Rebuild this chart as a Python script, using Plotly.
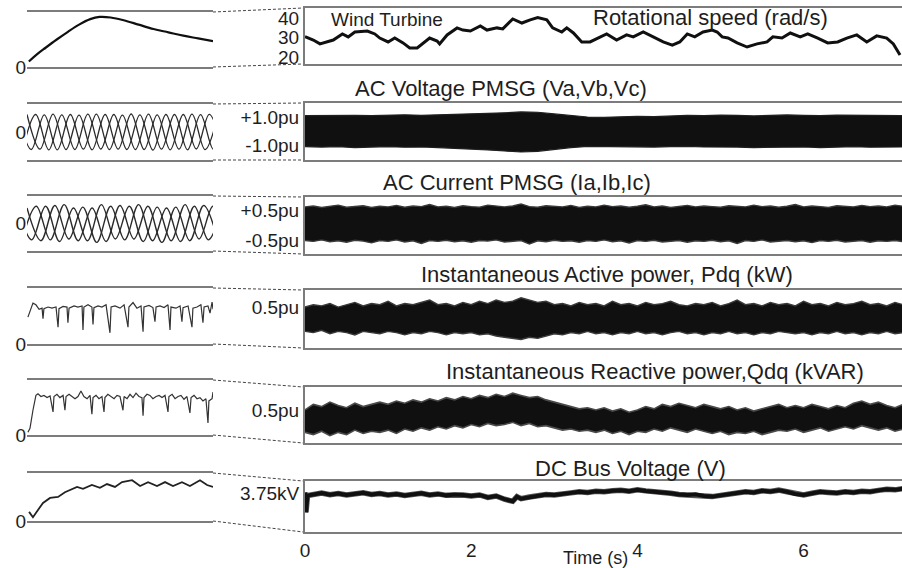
import plotly.graph_objects as go

W, H = 902, 568
FONT = "Liberation Sans, Arial, Helvetica, sans-serif"
TXT = "#1e1e1e"
INK = "#101010"
FRAME = "#7c7c7c"

# ---------------- geometry (pixels) ----------------
LEFT_X = (27, 213)
RIGHT_X = (305, 902)
LEFT_Y = [(12, 67), (104, 160), (196, 251), (288, 344), (380, 435), (473, 521)]
RIGHT_Y = [(8, 64), (103, 160), (197, 254), (290, 348), (387, 443), (481, 532)]
T_MAX = 7.184

# ---------------- data: main time traces (s) ----------------
ROT_T = [0.00,0.10,0.18,0.26,0.34,0.45,0.52,0.60,0.75,0.84,0.90,1.00,1.08,1.18,1.26,1.35,1.42,1.50,1.59,1.62,
         1.71,1.83,1.90,1.99,2.11,2.19,2.31,2.38,2.50,2.61,2.71,2.80,2.91,2.98,3.09,3.15,3.23,3.33,3.43,3.53,
         3.63,3.75,3.87,3.95,4.07,4.19,4.31,4.42,4.51,4.60,4.69,4.79,4.90,4.96,5.02,5.09,5.20,5.32,5.44,5.56,
         5.63,5.74,5.84,5.96,6.05,6.17,6.29,6.41,6.52,6.64,6.76,6.88,7.00,7.08,7.16]
ROT_V = [30.4,28.7,26.7,27.7,28.7,31.8,30.3,32.8,33.3,31.8,29.7,27.7,29.7,27.2,24.6,24.6,27.2,29.7,28.2,26.7,
         31.3,34.9,33.8,33.3,35.9,33.8,34.9,34.4,39.5,37.4,39.0,40.2,39.0,34.9,32.8,34.9,32.3,27.7,27.7,29.7,
         31.8,28.7,31.3,30.3,32.8,30.3,27.7,26.1,27.7,31.8,30.3,32.8,33.8,32.8,30.3,29.7,27.2,25.1,26.7,27.7,
         30.3,29.7,32.3,30.3,31.8,29.7,27.2,27.7,29.7,31.3,27.7,30.8,29.7,26.7,21.0]

VOLT_T = [0.0,0.2,0.4,0.6,0.8,1.0,1.2,1.4,1.6,1.8,2.0,2.2,2.4,2.6,2.8,3.0,3.2,3.4,3.6,3.8,
          4.0,4.2,4.4,4.6,4.8,5.0,5.2,5.4,5.6,5.8,6.0,6.2,6.4,6.6,6.8,7.0,7.2]
VOLT_UP = [1.10,1.12,1.15,1.12,1.10,1.14,1.16,1.12,1.15,1.20,1.22,1.28,1.30,1.36,1.34,1.22,1.10,1.00,0.98,1.02,
           1.05,1.02,1.08,1.12,1.10,1.14,1.12,1.08,1.12,1.15,1.12,1.10,1.14,1.12,1.10,1.12,1.10]
VOLT_LO = [-1.12,-1.15,-1.12,-1.18,-1.15,-1.12,-1.16,-1.14,-1.18,-1.22,-1.28,-1.35,-1.42,-1.50,-1.45,-1.30,-1.18,-1.10,-1.12,-1.15,
           -1.12,-1.15,-1.12,-1.10,-1.14,-1.12,-1.15,-1.18,-1.15,-1.12,-1.14,-1.18,-1.15,-1.12,-1.16,-1.15,-1.14]

BAND_T = [0.0,0.1,0.2,0.3,0.4,0.5,0.6,0.7,0.8,0.9,1.0,1.1,1.2,1.3,1.4,1.5,1.6,1.7,1.8,1.9,
          2.0,2.1,2.2,2.3,2.4,2.5,2.6,2.7,2.8,2.9,3.0,3.1,3.2,3.3,3.4,3.5,3.6,3.7,3.8,3.9,
          4.0,4.1,4.2,4.3,4.4,4.5,4.6,4.7,4.8,4.9,5.0,5.1,5.2,5.3,5.4,5.5,5.6,5.7,5.8,5.9,
          6.0,6.1,6.2,6.3,6.4,6.5,6.6,6.7,6.8,6.9,7.0,7.1,7.2]
CUR_UP = [0.60,0.63,0.58,0.62,0.66,0.59,0.61,0.64,0.58,0.62,
          0.60,0.65,0.59,0.63,0.61,0.68,0.60,0.62,0.58,0.64,
          0.61,0.59,0.66,0.62,0.60,0.63,0.70,0.61,0.59,0.64,
          0.62,0.60,0.65,0.58,0.62,0.60,0.66,0.61,0.63,0.59,
          0.62,0.67,0.60,0.63,0.58,0.62,0.65,0.60,0.63,0.61,
          0.59,0.64,0.62,0.60,0.66,0.61,0.63,0.59,0.62,0.68,
          0.60,0.63,0.61,0.58,0.64,0.62,0.60,0.65,0.61,0.63,
          0.60,0.66,0.62]
CUR_LO = [-0.52,-0.55,-0.50,-0.56,-0.53,-0.58,-0.51,-0.54,-0.60,-0.52,
          -0.55,-0.50,-0.57,-0.53,-0.62,-0.52,-0.55,-0.51,-0.56,-0.53,
          -0.58,-0.52,-0.54,-0.50,-0.57,-0.55,-0.52,-0.64,-0.53,-0.56,
          -0.51,-0.55,-0.53,-0.58,-0.52,-0.55,-0.50,-0.56,-0.53,-0.60,
          -0.52,-0.55,-0.51,-0.57,-0.54,-0.52,-0.58,-0.53,-0.55,-0.51,
          -0.56,-0.53,-0.62,-0.52,-0.55,-0.50,-0.57,-0.54,-0.52,-0.56,
          -0.53,-0.59,-0.52,-0.55,-0.51,-0.57,-0.54,-0.52,-0.58,-0.53,
          -0.55,-0.52,-0.56]
P_UP = [0.50,0.52,0.51,0.53,0.50,0.52,0.54,0.51,0.53,0.52,
        0.55,0.51,0.53,0.52,0.54,0.56,0.52,0.53,0.51,0.54,
        0.52,0.55,0.53,0.56,0.54,0.55,0.58,0.56,0.54,0.55,
        0.52,0.53,0.51,0.54,0.52,0.53,0.51,0.55,0.52,0.53,
        0.51,0.54,0.52,0.53,0.55,0.52,0.51,0.53,0.52,0.54,
        0.51,0.53,0.56,0.52,0.53,0.51,0.54,0.52,0.53,0.51,
        0.55,0.52,0.53,0.51,0.54,0.52,0.53,0.55,0.52,0.53,
        0.51,0.54,0.52]
P_LO = [0.29,0.28,0.30,0.27,0.29,0.28,0.26,0.29,0.28,0.27,
        0.29,0.28,0.26,0.28,0.27,0.29,0.28,0.26,0.28,0.27,
        0.28,0.26,0.27,0.25,0.24,0.23,0.22,0.24,0.23,0.25,
        0.27,0.26,0.28,0.27,0.29,0.27,0.28,0.26,0.28,0.27,
        0.29,0.27,0.28,0.26,0.28,0.29,0.27,0.28,0.26,0.28,
        0.27,0.29,0.27,0.28,0.26,0.28,0.27,0.29,0.28,0.27,
        0.28,0.26,0.28,0.27,0.29,0.27,0.28,0.26,0.28,0.27,
        0.29,0.27,0.28]
Q_UP = [0.50,0.55,0.53,0.57,0.54,0.52,0.56,0.53,0.55,0.57,
        0.55,0.58,0.56,0.59,0.57,0.60,0.58,0.61,0.59,0.62,
        0.60,0.63,0.61,0.64,0.62,0.65,0.63,0.61,0.62,0.59,
        0.57,0.55,0.53,0.51,0.52,0.50,0.52,0.49,0.51,0.48,
        0.50,0.53,0.51,0.55,0.53,0.56,0.54,0.52,0.55,0.53,
        0.51,0.53,0.50,0.52,0.49,0.51,0.53,0.55,0.52,0.54,
        0.52,0.55,0.53,0.51,0.54,0.52,0.56,0.58,0.55,0.57,
        0.54,0.52,0.55]
Q_LO = [0.30,0.28,0.31,0.27,0.30,0.28,0.32,0.29,0.31,0.30,
        0.32,0.29,0.33,0.31,0.34,0.32,0.35,0.33,0.36,0.34,
        0.37,0.35,0.38,0.36,0.37,0.39,0.36,0.38,0.35,0.36,
        0.34,0.32,0.33,0.31,0.32,0.30,0.32,0.29,0.31,0.28,
        0.31,0.30,0.33,0.31,0.34,0.32,0.30,0.33,0.31,0.29,
        0.31,0.28,0.30,0.29,0.31,0.28,0.30,0.32,0.31,0.33,
        0.30,0.32,0.34,0.31,0.33,0.35,0.33,0.36,0.34,0.32,
        0.34,0.31,0.33]

DC_T = [0.0,0.012,0.03,0.1,0.2,0.3,0.4,0.5,0.6,0.7,0.8,0.9,1.0,1.1,1.2,1.3,1.4,1.5,1.6,1.7,
        1.8,1.9,2.0,2.1,2.2,2.3,2.4,2.5,2.55,2.6,2.7,2.8,2.9,3.0,3.1,3.2,3.3,3.4,3.5,3.6,
        3.7,3.8,3.9,4.0,4.1,4.2,4.3,4.4,4.5,4.6,4.7,4.8,4.9,5.0,5.1,5.2,5.3,5.4,5.5,5.6,
        5.7,5.8,5.9,6.0,6.1,6.2,6.3,6.4,6.5,6.6,6.7,6.8,6.9,7.0,7.1,7.2]
DC_V = [3.80,1.90,3.50,3.62,3.75,3.58,3.70,3.55,3.66,3.76,3.60,3.70,3.55,3.65,3.50,3.62,3.72,3.55,3.66,3.52,
        3.60,3.55,3.45,3.56,3.32,3.46,3.15,2.95,3.40,3.20,3.36,3.45,3.60,3.55,3.70,3.76,3.86,3.80,3.92,3.86,
        3.96,4.02,3.92,4.05,3.95,3.90,3.80,3.72,3.60,3.55,3.62,3.46,3.40,3.52,3.62,3.76,3.86,3.80,3.96,3.90,
        4.02,3.86,3.66,3.56,3.72,3.86,3.80,3.75,3.86,3.80,3.92,3.86,4.00,4.10,4.05,4.18]

# ---------------- data: zoomed windows (normalized time 0..1) ----------------
WT_X = [0.01,0.05,0.10,0.16,0.22,0.28,0.34,0.39,0.45,0.52,0.60,0.68,0.76,0.84,0.92,1.00]
WT_Y = [0.10,0.22,0.35,0.50,0.64,0.77,0.87,0.91,0.90,0.85,0.77,0.69,0.63,0.57,0.52,0.47]

VA_X = [0.00,0.07,0.14,0.21,0.28,0.35,0.42,0.49,0.56,0.63,0.70,0.77,0.84,0.91,0.98,1.05]
VA_Y = [1.00,-0.98,1.02,-1.00,0.97,-1.02,1.00,-0.98,1.03,-1.00,0.98,-1.02,1.00,-0.97,1.01,-1.00]
VB_X = [-0.023,0.047,0.117,0.187,0.257,0.327,0.397,0.467,0.537,0.607,0.677,0.747,0.817,0.887,0.957,1.027]
VB_Y = [-1.00,1.00,-1.02,0.98,-1.00,1.02,-0.97,1.00,-1.00,0.98,-1.03,1.00,-0.98,1.02,-1.00,0.99]
VC_X = [-0.047,0.023,0.093,0.163,0.233,0.303,0.373,0.443,0.513,0.583,0.653,0.723,0.793,0.863,0.933,1.003,1.073]
VC_Y = [1.00,-1.00,0.98,-1.02,1.00,-0.98,1.02,-1.00,0.97,-1.00,1.02,-0.98,1.00,-1.02,0.99,-1.00,1.00]

IA_X = [0.000,0.075,0.150,0.225,0.300,0.375,0.450,0.525,0.600,0.675,0.750,0.825,0.900,0.975,1.050]
IA_Y = [0.90,-1.00,1.05,-0.90,0.95,-1.10,1.00,-0.95,1.10,-1.00,0.90,-1.05,1.00,-0.95,1.00]
IB_X = [-0.025,0.050,0.125,0.200,0.275,0.350,0.425,0.500,0.575,0.650,0.725,0.800,0.875,0.950,1.025]
IB_Y = [-0.90,1.00,-0.95,1.10,-1.00,0.90,-1.05,1.05,-0.90,1.00,-1.10,0.95,-1.00,1.05,-0.95]
IC_X = [-0.050,0.025,0.100,0.175,0.250,0.325,0.400,0.475,0.550,0.625,0.700,0.775,0.850,0.925,1.000,1.075]
IC_Y = [1.00,-0.95,1.00,-1.05,0.90,-1.00,1.10,-0.90,1.00,-1.05,0.95,-1.00,1.10,-0.90,1.00,-1.00]

PZ_X = [0.005,0.022,0.032,0.048,0.065,0.081,0.086,0.091,0.113,0.134,0.156,0.167,0.172,0.194,0.215,0.220,0.226,
        0.253,0.274,0.296,0.301,0.306,0.328,0.349,0.355,0.360,0.382,0.403,0.425,0.446,0.452,0.473,0.500,0.522,
        0.543,0.548,0.570,0.591,0.613,0.624,0.629,0.656,0.677,0.688,0.694,0.715,0.737,0.758,0.769,0.774,0.801,
        0.823,0.833,0.839,0.866,0.887,0.892,0.914,0.935,0.946,0.952,0.973,0.984,0.995,1.000]
PZ_Y = [0.48,0.66,0.73,0.70,0.62,0.64,0.45,0.63,0.66,0.64,0.66,0.30,0.63,0.67,0.66,0.38,0.64,
        0.68,0.66,0.68,0.25,0.66,0.70,0.66,0.35,0.65,0.68,0.66,0.70,0.20,0.66,0.68,0.64,0.70,
        0.30,0.66,0.74,0.64,0.68,0.22,0.66,0.69,0.65,0.40,0.66,0.68,0.65,0.70,0.25,0.66,0.64,
        0.68,0.40,0.65,0.68,0.30,0.64,0.66,0.70,0.38,0.66,0.68,0.55,0.75,0.62]

QZ_X = [0.005,0.016,0.032,0.048,0.059,0.075,0.091,0.108,0.124,0.140,0.145,0.161,0.177,0.194,0.204,0.210,0.226,
        0.242,0.258,0.274,0.290,0.306,0.323,0.339,0.349,0.355,0.371,0.387,0.403,0.414,0.419,0.435,0.452,0.468,
        0.484,0.500,0.516,0.522,0.538,0.554,0.570,0.586,0.602,0.618,0.624,0.629,0.645,0.661,0.677,0.694,0.710,
        0.726,0.742,0.758,0.763,0.780,0.796,0.812,0.828,0.844,0.860,0.876,0.882,0.898,0.914,0.930,0.946,0.962,
        0.973,0.978,0.995,1.000]
QZ_Y = [0.05,0.12,0.45,0.72,0.75,0.70,0.72,0.68,0.71,0.42,0.70,0.74,0.68,0.72,0.45,0.70,0.74,
        0.70,0.66,0.70,0.80,0.70,0.66,0.72,0.38,0.68,0.72,0.66,0.70,0.42,0.68,0.74,0.70,0.66,
        0.72,0.70,0.45,0.70,0.66,0.74,0.68,0.76,0.70,0.68,0.35,0.68,0.74,0.72,0.66,0.70,0.72,
        0.68,0.72,0.42,0.70,0.74,0.66,0.70,0.72,0.65,0.70,0.40,0.68,0.72,0.66,0.68,0.62,0.66,
        0.22,0.62,0.66,0.78]

DZ_X = [0.011,0.032,0.059,0.086,0.124,0.167,0.204,0.237,0.269,0.301,0.349,0.392,0.430,0.473,0.511,0.565,
        0.608,0.651,0.699,0.742,0.785,0.833,0.876,0.930,0.968,1.000]
DZ_Y = [0.19,0.08,0.23,0.375,0.48,0.50,0.60,0.65,0.71,0.67,0.75,0.69,0.77,0.71,0.81,0.85,
        0.73,0.81,0.73,0.81,0.73,0.81,0.73,0.85,0.75,0.71]

# ---------------- axis ticks / labels ----------------
RIGHT_RANGES = [[16.4, 45.1], [-2.07, 2.0], [-0.97, 0.93], [0.147, 0.647], [0.205, 0.705], [0.0, 4.9]]
RIGHT_TICKVALS = [[20, 30, 40], [1.0, -1.0], [0.5, -0.5], [0.5], [0.5], [3.75]]
RIGHT_TICKTEXT = [["20", "30", "40"], ["+1.0pu", "-1.0pu"], ["+0.5pu", "-0.5pu"], ["0.5pu"], ["0.5pu"], ["3.75kV"]]
LEFT_RANGES = [[0, 1], [-1.6, 1.6], [-1.6, 1.6], [0, 1], [0, 1], [0, 1]]
TIME_TICKS = [0, 2, 4, 6]

TITLES = [
    ("Wind Turbine", 387, 20, 19),
    ("Rotational speed (rad/s)", 710, 18, 22),
    ("AC Voltage PMSG (Va,Vb,Vc)", 501, 88, 22),
    ("AC Current PMSG (Ia,Ib,Ic)", 517, 183, 22),
    ("Instantaneous Active power, Pdq (kW)", 607, 274, 22),
    ("Instantaneous Reactive power,Qdq (kVAR)", 655, 371, 22),
    ("DC Bus Voltage (V)", 630, 468, 22),
    ("Time (s)", 595, 558, 18),
]

# ---------------- figure ----------------
fig = go.Figure()


def refs(i):
    return ("x" if i == 1 else f"x{i}"), ("y" if i == 1 else f"y{i}")


def name(kind, i):
    return kind if i == 1 else f"{kind}{i}"


def add_line(i, x, y, color=INK, width=1.5, shape="linear"):
    assert len(x) == len(y)
    xa, ya = refs(i)
    fig.add_trace(go.Scatter(x=x, y=y, mode="lines", xaxis=xa, yaxis=ya,
                             line=dict(color=color, width=width, shape=shape),
                             hoverinfo="skip"))


def add_band(i, x, lo, hi, edge, ew):
    assert len(x) == len(lo) == len(hi)
    xa, ya = refs(i)
    fig.add_trace(go.Scatter(x=x, y=lo, mode="lines", xaxis=xa, yaxis=ya,
                             line=dict(color=edge, width=ew), hoverinfo="skip"))
    fig.add_trace(go.Scatter(x=x, y=hi, mode="lines", xaxis=xa, yaxis=ya, fill="tonexty",
                             fillcolor=INK, line=dict(color=edge, width=ew), hoverinfo="skip"))


# left (zoomed) panels
add_line(1, WT_X, WT_Y, color=INK, width=2.2, shape="spline")
for xs, ys in ((VA_X, VA_Y), (VB_X, VB_Y), (VC_X, VC_Y)):
    add_line(3, xs, ys, color="#2a2a2a", width=1.3, shape="spline")
for xs, ys in ((IA_X, IA_Y), (IB_X, IB_Y), (IC_X, IC_Y)):
    add_line(5, xs, ys, color="#2a2a2a", width=1.4, shape="spline")
add_line(7, PZ_X, PZ_Y, color="#333333", width=1.2)
add_line(9, QZ_X, QZ_Y, color="#333333", width=1.2)
add_line(11, DZ_X, DZ_Y, color="#222222", width=1.8)

# right (full time) panels
add_line(2, ROT_T, ROT_V, color=INK, width=3)
add_band(4, VOLT_T, VOLT_LO, VOLT_UP, "#202020", 1.2)
add_band(6, BAND_T, CUR_LO, CUR_UP, "#3a3a3a", 1.4)
add_band(8, BAND_T, P_LO, P_UP, "#3a3a3a", 1.4)
add_band(10, BAND_T, Q_LO, Q_UP, "#4a4a4a", 1.6)
add_line(12, DC_T, DC_V, color="#555555", width=5.5)
add_line(12, DC_T, DC_V, color=INK, width=4)

layout = dict(
    width=W, height=H, margin=dict(l=0, r=0, t=0, b=0, autoexpand=False),
    paper_bgcolor="white", plot_bgcolor="white", showlegend=False,
    font=dict(family=FONT, color=TXT, size=19),
)
axis_common = dict(showgrid=False, zeroline=False, ticks="", fixedrange=True, automargin=False)
for k in range(6):
    li, ri = 2 * k + 1, 2 * k + 2
    lt, lb = LEFT_Y[k]
    rt, rb = RIGHT_Y[k]
    layout[name("xaxis", li)] = dict(axis_common, domain=[LEFT_X[0] / W, LEFT_X[1] / W], range=[0, 1],
                                     showline=True, mirror=True, linecolor=FRAME, linewidth=2,
                                     showticklabels=False, anchor=refs(li)[1])
    layout[name("yaxis", li)] = dict(axis_common, domain=[1 - lb / H, 1 - lt / H], range=LEFT_RANGES[k],
                                     showline=False, tickvals=[0], ticktext=["0"],
                                     tickfont=dict(size=19, color=TXT), anchor=refs(li)[0])
    layout[name("xaxis", ri)] = dict(axis_common, domain=[RIGHT_X[0] / W, 1.0], range=[0, T_MAX],
                                     showline=True, mirror=True, linecolor=FRAME, linewidth=2,
                                     showticklabels=(k == 5), tickvals=TIME_TICKS,
                                     tickfont=dict(size=19, color=TXT), anchor=refs(ri)[1])
    layout[name("yaxis", ri)] = dict(axis_common, domain=[1 - rb / H, 1 - rt / H], range=RIGHT_RANGES[k],
                                     showline=True, mirror=False, linecolor=FRAME, linewidth=2,
                                     tickvals=RIGHT_TICKVALS[k], ticktext=RIGHT_TICKTEXT[k],
                                     tickfont=dict(size=19, color=TXT), anchor=refs(ri)[0])

# dashed zoom connectors
shapes = []
for k in range(6):
    lt, lb = LEFT_Y[k]
    rt, rb = RIGHT_Y[k]
    for a, b in ((lt, rt), (lb, rb)):
        shapes.append(dict(type="line", xref="paper", yref="paper",
                           x0=LEFT_X[1] / W, y0=1 - a / H, x1=(RIGHT_X[0] - 2) / W, y1=1 - b / H,
                           line=dict(color="#444444", width=1, dash="3px,2px")))
layout["shapes"] = shapes

layout["annotations"] = [
    dict(text=t, x=x / W, y=1 - y / H, xref="paper", yref="paper", xanchor="center", yanchor="middle",
         showarrow=False, font=dict(family=FONT, size=s, color=TXT))
    for t, x, y, s in TITLES
]

fig.update_layout(**layout)
fig.write_html(
    "out.html",
    config={"displayModeBar": False, "staticPlot": True},
    post_script="document.body.style.margin='0';document.body.style.overflow='hidden';",
)
